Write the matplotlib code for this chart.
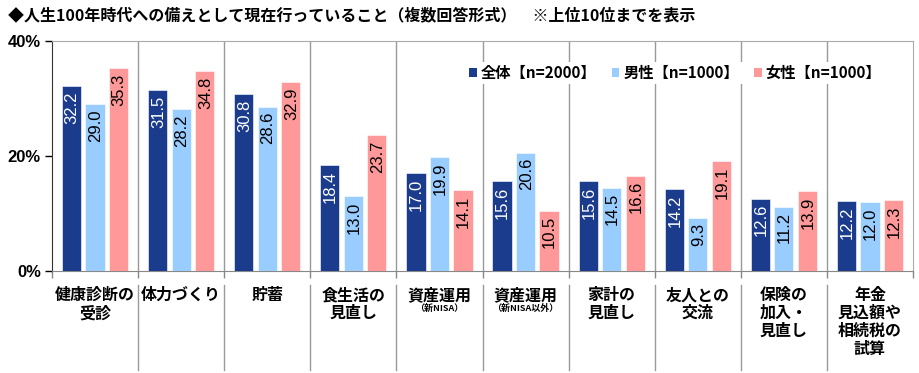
import matplotlib
matplotlib.use("Agg")
import matplotlib.pyplot as plt
from matplotlib.patches import Patch
from matplotlib.lines import Line2D
import numpy as np

plt.rcParams['font.family'] = ['Noto Sans CJK JP', 'DejaVu Sans']

title = "◆人生100年時代への備えとして現在行っていること（複数回答形式）　※上位10位までを表示"
categories = ["健康診断の\n受診", "体力づくり", "貯蓄", "食生活の\n見直し", "資産運用", "資産運用",
              "家計の\n見直し", "友人との\n交流", "保険の\n加入・\n見直し", "年金\n見込額や\n相続税の\n試算"]
subnotes = ["", "", "", "", "（新NISA）", "（新NISA以外）", "", "", "", ""]
series_names = ["全体【n=2000】", "男性【n=1000】", "女性【n=1000】"]
total = [32.2, 31.5, 30.8, 18.4, 17.0, 15.6, 15.6, 14.2, 12.6, 12.2]
male = [29.0, 28.2, 28.6, 13.0, 19.9, 20.6, 14.5, 9.3, 11.2, 12.0]
female = [35.3, 34.8, 32.9, 23.7, 14.1, 10.5, 16.6, 19.1, 13.9, 12.3]
yticks = [0, 20, 40]
ytick_labels = ["0%", "20%", "40%"]

colors = ["#1B3C8C", "#99CCFF", "#FF9999"]
text_colors = ["white", "black", "black"]

fig = plt.figure(figsize=(9.2, 3.73), dpi=100)
W, H = 920, 373
ax = fig.add_axes([52 / W, 1 - 271 / H, (913 - 52) / W, (271 - 41) / H])

x = np.arange(len(categories))
step = 0.273
bw = 0.222
for i, (vals, c, tc) in enumerate(zip([total, male, female], colors, text_colors)):
    xs = x + (i - 1) * step
    ax.bar(xs, vals, width=bw, color=c, edgecolor="white", linewidth=0.4, zorder=3)
    for xi, v in zip(xs, vals):
        ax.annotate(f"{v:.1f}", (xi, v), xytext=(0.5, -4), textcoords="offset points",
                    rotation=90, ha="center", va="top", fontsize=12, color=tc,
                    family=["Liberation Sans", "DejaVu Sans"], zorder=4)

ax.set_xlim(-0.5, len(categories) - 0.5)
ax.set_ylim(0, 40)
ax.set_yticks(yticks)
ax.set_yticklabels(ytick_labels, fontsize=12, fontweight="bold",
                   family=["Liberation Sans", "DejaVu Sans"])
ax.tick_params(axis="y", length=5, width=1, direction="out", pad=3)
ax.set_xticks(np.arange(-0.5, len(categories), 1.0))
ax.set_xticklabels([])
ax.tick_params(axis="x", length=5, width=1, direction="out", color="#888888")

for s in ["top", "right"]:
    ax.spines[s].set_color("#AAAAAA")
ax.spines["left"].set_color("#333333")
ax.spines["bottom"].set_color("#888888")

for b in np.arange(0.5, len(categories) - 1, 1.0):
    ax.axvline(b, color="#999999", lw=1, zorder=1)
    ax.add_line(Line2D([b, b], [-0.061, -0.43], transform=ax.get_xaxis_transform(),
                       color="#999999", lw=1, clip_on=False))

trans = ax.get_xaxis_transform()
for xi, cat, sub in zip(x, categories, subnotes):
    ax.text(xi, -0.07, cat, transform=trans, ha="center", va="top", fontsize=11.5,
            fontweight="bold", linespacing=1.15)
    if sub:
        ax.text(xi, -0.145, sub, transform=trans, ha="center", va="top", fontsize=6.5,
                fontweight="bold")

handles = [Patch(facecolor=c, edgecolor="none") for c in colors]
leg = ax.legend(handles, series_names, ncol=3, loc="center", bbox_to_anchor=(0.724, 0.861),
                frameon=True, fancybox=False, handlelength=0.5, handleheight=0.5,
                handletextpad=0.25, columnspacing=1.0, borderpad=0.2,
                prop={"weight": "bold", "size": 11})
leg.get_frame().set_facecolor("white")
leg.get_frame().set_edgecolor("none")
leg.get_frame().set_alpha(1)
leg.set_zorder(5)

fig.text(8 / W, 1 - 15 / H, title, ha="left", va="center", fontsize=11.5, fontweight="bold")

fig.savefig("out.png", dpi=100)
